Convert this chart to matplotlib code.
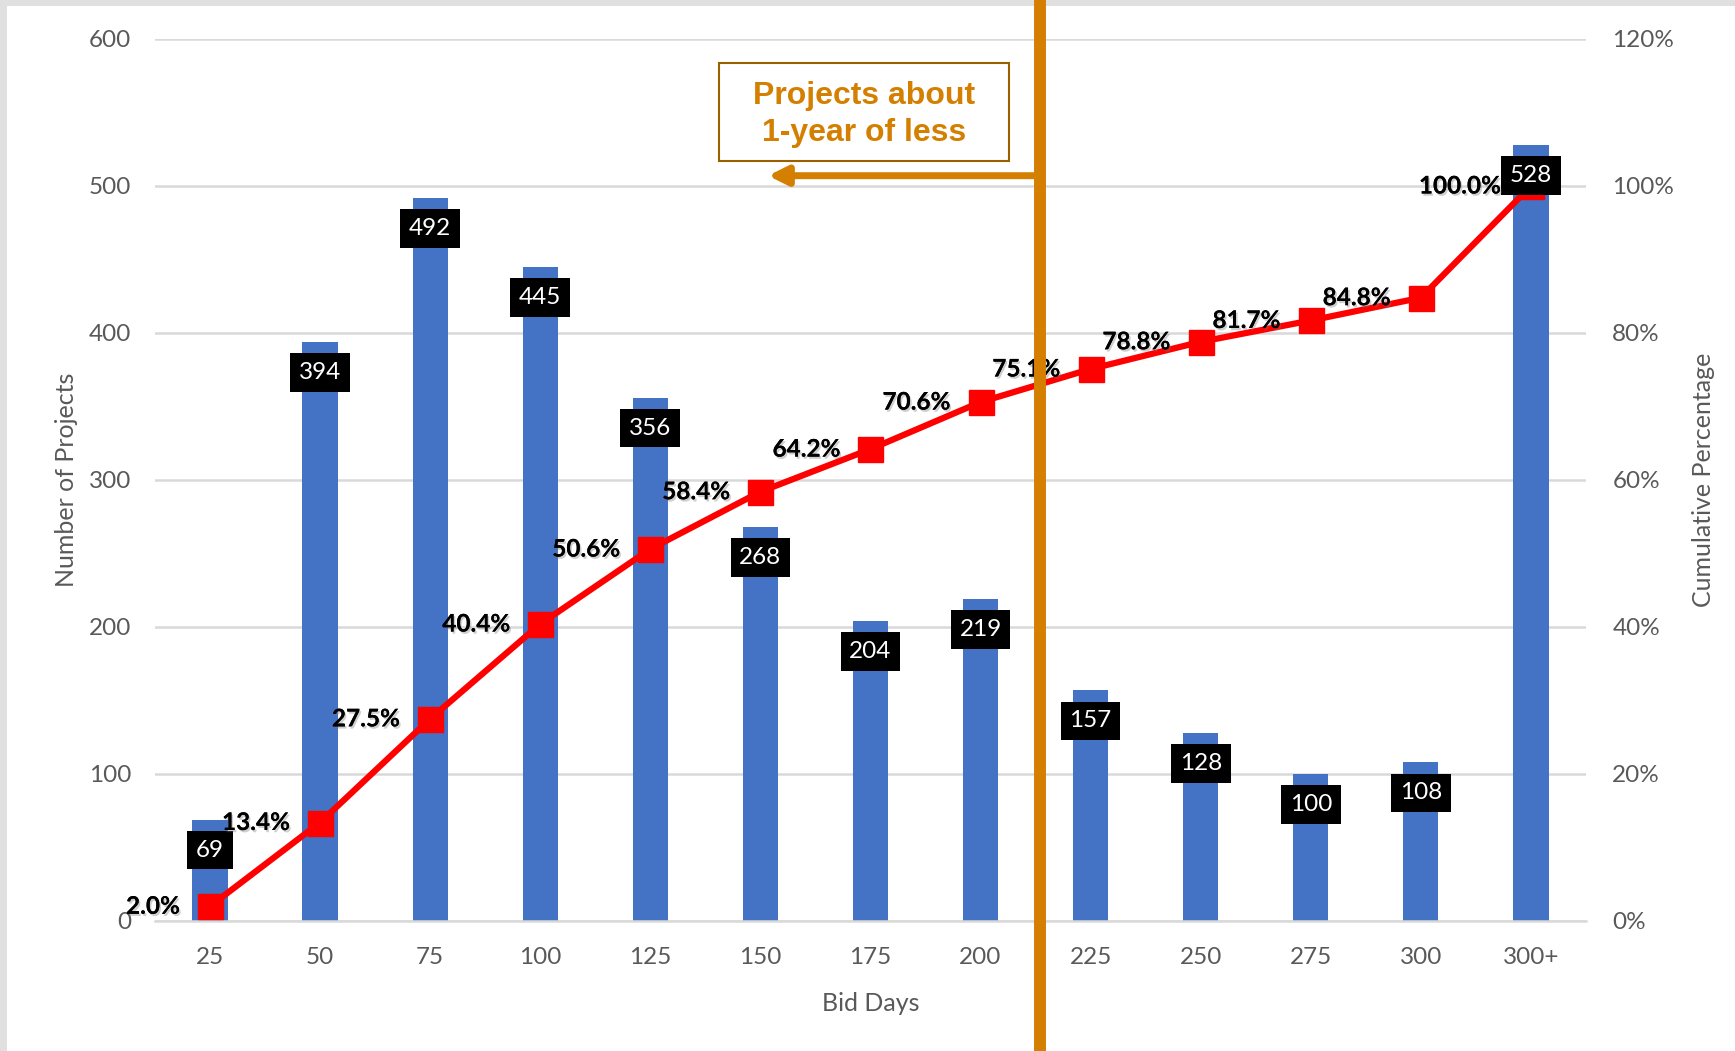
import matplotlib
matplotlib.use('Agg')
import matplotlib.pyplot as plt
import matplotlib.patheffects as pe
from matplotlib.patches import Rectangle
from matplotlib.lines import Line2D
from matplotlib.transforms import blended_transform_factory
from matplotlib.ticker import FuncFormatter

# data
bid_days = ['25', '50', '75', '100', '125', '150', '175', '200', '225', '250', '275', '300', '300+']
projects = [69, 394, 492, 445, 356, 268, 204, 219, 157, 128, 100, 108, 528]
cum_pct = [2.0, 13.4, 27.5, 40.4, 50.6, 58.4, 64.2, 70.6, 75.1, 78.8, 81.7, 84.8, 100.0]
cutoff = 7.54  # position of the "1 year" divider between 200 and 225

grey = '#595959'
grid_c = '#D9D9D9'
orange = '#D47F00'

plt.rcParams['font.family'] = ['Lato', 'DejaVu Sans']

fig = plt.figure(figsize=(17.35, 10.51), dpi=100)
ax = fig.add_axes([0.0893, 0.1237, 0.8248, 0.8392])
ax2 = ax.twinx()

x = list(range(len(bid_days)))
ax.bar(x, projects, width=0.32, color='#4472C4', zorder=2)
ax.set_xlim(-0.5, len(bid_days) - 0.5)
ax.set_ylim(0, 600)
ax.set_yticks(range(0, 601, 100))
ax.grid(axis='y', color=grid_c, lw=1.8, zorder=0)
ax.set_axisbelow(True)
ax.set_xticks(x)
ax.set_xticklabels(bid_days)
ax.tick_params(axis='both', length=0, labelsize=17.5, labelcolor=grey)
ax.tick_params(axis='y', pad=17)
ax.tick_params(axis='x', pad=19)
ax.set_xlabel('Bid Days', fontsize=18, color=grey, labelpad=17)
ax.set_ylabel('Number of Projects', fontsize=18, color=grey, labelpad=8)
for s in ['top', 'right', 'left']:
  ax.spines[s].set_visible(False)
ax.spines['bottom'].set_color(grid_c)
ax.spines['bottom'].set_linewidth(1.8)

ax2.plot(x, [p / 100 for p in cum_pct], color='red', lw=4.5, marker='s', markersize=18, zorder=3)
ax2.set_ylim(0, 1.2)
ax2.set_yticks([0, 0.2, 0.4, 0.6, 0.8, 1.0, 1.2])
ax2.yaxis.set_major_formatter(FuncFormatter(lambda v, p: '%d%%' % round(v * 100)))
ax2.tick_params(axis='y', length=0, labelsize=17.5, labelcolor=grey, pad=19)
ax2.set_ylabel('Cumulative Percentage', fontsize=18, color=grey, labelpad=13)
for s in ['top', 'right', 'left', 'bottom']:
  ax2.spines[s].set_visible(False)

shadow = [pe.withSimplePatchShadow(offset=(1.2, -1.6), shadow_rgbFace='#777777', alpha=0.35), pe.Normal()]
for i, p in enumerate(cum_pct):
  ax2.annotate('%.1f%%' % p, (i, p / 100), xytext=(-22, 0), textcoords='offset points',
               ha='right', va='center', fontsize=17.5, fontweight='bold', color='black',
               path_effects=shadow, zorder=5)

for i, v in enumerate(projects):
  ax2.annotate(str(v), (i, v), xycoords=ax.transData, xytext=(0, -22), textcoords='offset points',
               ha='center', va='center', fontsize=17.5, color='white', zorder=4,
               bbox=dict(boxstyle='square,pad=0.36', fc='black', ec='none'))

# divider line spanning the whole figure height
tr = blended_transform_factory(ax.transData, fig.transFigure)
fig.add_artist(Line2D([cutoff, cutoff], [0, 1], transform=tr, color=orange, lw=8.6, zorder=10))

# arrow pointing left from the divider
ax2.annotate('', xy=(5.07, 507), xycoords=ax.transData, xytext=(cutoff, 507), textcoords=ax.transData,
             arrowprops=dict(arrowstyle='-|>', color=orange, lw=5, mutation_scale=28,
                             shrinkA=0, shrinkB=0), zorder=9)

ax2.add_patch(Rectangle((0.394, 0.8617), 0.2027, 0.1111, transform=ax.transAxes,
                        fc='white', ec='#996000', lw=1.5, zorder=8, clip_on=False))
ax2.text(0.4955, 0.914, 'Projects about\n1-year of less', transform=ax.transAxes,
         ha='center', va='center', fontsize=23, fontweight='bold', color=orange,
         family=['Liberation Sans', 'DejaVu Sans'], linespacing=1.3, zorder=9)

# light grey frame on the left and top edges
fig.add_artist(Rectangle((0, 0), 0.004, 1, transform=fig.transFigure, fc='#E0E0E0', ec='none'))
fig.add_artist(Rectangle((0, 0.9943), 1, 0.0057, transform=fig.transFigure, fc='#E0E0E0', ec='none'))

fig.savefig('out.png', dpi=100)
